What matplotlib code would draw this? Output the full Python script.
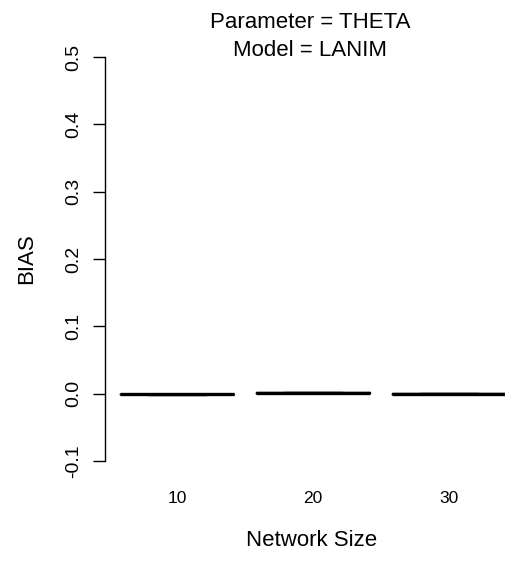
import matplotlib

matplotlib.use("Agg")
import matplotlib.pyplot as plt  # noqa: E402

# Bias per network size (boxes are nearly flat at zero)
sizes = ["10", "20", "30"]
medians = [-0.0008, 0.0015, 0.0002]
q1 = [-0.0012, 0.0011, 0.0000]
q3 = [-0.0004, 0.0019, 0.0004]
whislo = [-0.0015, 0.0008, -0.0002]
whishi = [-0.0001, 0.0022, 0.0006]

yticks = [-0.1, 0.0, 0.1, 0.2, 0.3, 0.4, 0.5]

plt.rcParams["font.family"] = ["Liberation Sans", "DejaVu Sans"]

W, H = 506, 561
fig = plt.figure(figsize=(W / 100, H / 100), dpi=100)
left, right, top, bottom = 105, 515, 36.8, 481.2
ax = fig.add_axes([left / W, 1 - bottom / H, (right - left) / W, (bottom - top) / H])

stats = []
for i in range(len(sizes)):
    stats.append({"med": medians[i], "q1": q1[i], "q3": q3[i],
                  "whislo": whislo[i], "whishi": whishi[i], "fliers": []})

ax.bxp(stats, positions=range(1, len(sizes) + 1), widths=0.84,
       boxprops=dict(color="black", lw=1),
       medianprops=dict(color="black", lw=2.4),
       whiskerprops=dict(color="black", lw=1, linestyle="--"),
       capprops=dict(color="black", lw=1))

ax.set_xlim(0.4706, 3.485)
ax.set_ylim(-0.13, 0.53)

ax.set_xticks(range(1, len(sizes) + 1))
ax.set_xticklabels(sizes)
ax.set_yticks(yticks)
ax.set_yticklabels([f"{v:.1f}" for v in yticks], rotation=90, va="center")

for s in ("top", "right", "bottom"):
    ax.spines[s].set_visible(False)
ax.spines["left"].set_bounds(-0.1, 0.5)
ax.spines["left"].set_linewidth(1)

ax.tick_params(axis="x", length=0, pad=7, labelsize=12.5)
ax.tick_params(axis="y", length=8.6, width=1, pad=8, labelsize=14)

fig.text(27 / W, 1 - 259 / H, "BIAS", rotation=90, ha="center", va="center", fontsize=16)
fig.text(312 / W, 1 - 541 / H, "Network Size", ha="center", va="center", fontsize=16)
fig.text(310 / W, 1 - 22 / H, "Parameter = THETA", ha="center", va="center", fontsize=16)
fig.text(310 / W, 1 - 50 / H, "Model = LANIM", ha="center", va="center", fontsize=16)

fig.savefig("out.png", dpi=100)
